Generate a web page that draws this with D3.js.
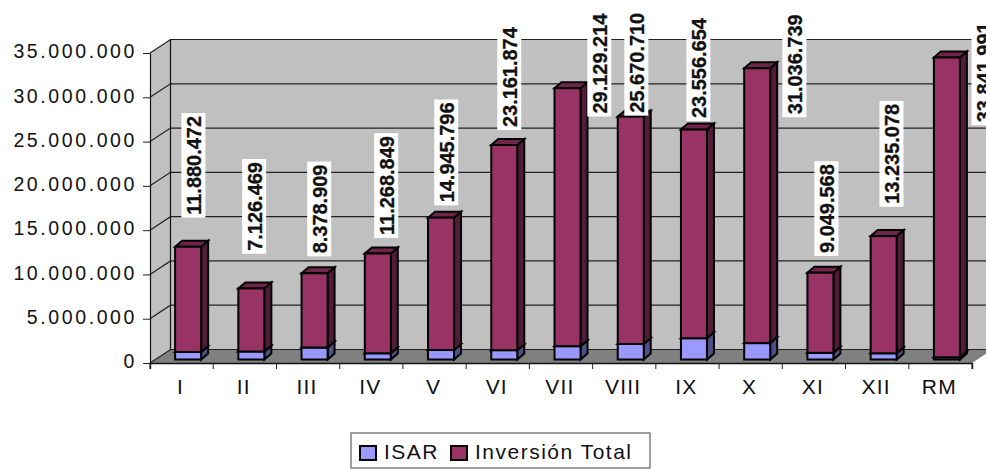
<!DOCTYPE html>
<html>
<head>
<meta charset="utf-8">
<script src="https://cdn.jsdelivr.net/npm/d3@7"></script>
<style>
  body { margin: 0; background: #fff; }
  svg { display: block; }
  text { font-family: "Liberation Sans", Arial, sans-serif; fill: #111; }
</style>
</head>
<body>
<svg id="chart" width="986" height="470"></svg>
<script>
const regions = ["I", "II", "III", "IV", "V", "VI", "VII", "VIII", "IX", "X", "XI", "XII", "RM"];
const isar = [850000, 900000, 1350000, 700000, 1070000, 1050000, 1500000, 1750000, 2400000, 1850000, 750000, 700000, 250000];
const inversion = [11880472, 7126469, 8378909, 11268849, 14945796, 23161874, 29129214, 25670710, 23556654, 31036739, 9049568, 13235078, 33841991];
const yTicks = [0, 5000000, 10000000, 15000000, 20000000, 25000000, 30000000, 35000000];
const seriesNames = ["ISAR", "Inversión Total"];

let margins = {top: 53, bottom: 107, left: 150, right: 14},
    width = 986,
    height = 470,
    depth = {x: 20.5, y: 13.5},
    barDepth = {x: 7, y: 6},
    barWidth = 26;

// labels were placed by hand in the original, [dx, dy] from the bar top
const labelShift = [[5.3, -29], [2.8, -34.6], [4.6, -17], [8.4, -15.6], [5.2, -12.3], [5, -15], [31.8, 28.3],
                    [5.6, -1], [4.4, -8.6], [37.2, 49], [6, -16.7], [7.8, -29.3], [36.6, 67.7]];

const colors = {
  ISAR: {front: "#9999ff", top: "#7373bf", side: "#4f4f85"},
  "Inversión Total": {front: "#993366", top: "#6e2549", side: "#501c38"}
};

const locale = d3.formatLocale({decimal: ",", thousands: ".", grouping: [3], currency: ["", ""]});
const fmt = locale.format(",d");

const svg = d3.select("#chart");

const x = d3.scaleBand()
  .domain(regions)
  .range([margins.left, width - margins.right]);

const y = d3.scaleLinear()
  .domain([0, 35000000])
  .range([height - margins.bottom, margins.top]);

const rows = regions.map((r, i) => ({region: r, ISAR: isar[i], "Inversión Total": inversion[i]}));
const stacked = d3.stack().keys(seriesNames)(rows);

const poly = pts => pts.map(p => p.join(",")).join(" ");

function draw_walls() {
  let x0 = x.range()[0], x1 = x.range()[1],
      y0 = y(0), y1 = y(35000000);

  svg.append("polygon")
    .attr("points", poly([[x0, y1], [x0 + depth.x, y1 - depth.y], [x0 + depth.x, y0 - depth.y], [x0, y0]]))
    .attr("fill", "#c0c0c0");
  svg.append("rect")
    .attr("x", x0 + depth.x).attr("y", y1 - depth.y)
    .attr("width", x1 - x0).attr("height", y0 - y1)
    .attr("fill", "#c0c0c0");
  svg.append("polygon")
    .attr("points", poly([[x0, y0], [x1, y0], [x1 + depth.x, y0 - depth.y], [x0 + depth.x, y0 - depth.y]]))
    .attr("fill", "#808080");

  // gridlines run round the side wall and along the back
  svg.append("g").selectAll("polyline")
    .data(yTicks).enter()
    .append("polyline")
    .attr("points", d => poly([[x0, y(d)], [x0 + depth.x, y(d) - depth.y], [x1 + depth.x, y(d) - depth.y]]))
    .attr("fill", "none")
    .attr("stroke", "#222")
    .attr("stroke-width", 1.2);

  svg.append("line")
    .attr("x1", x0 + depth.x).attr("x2", x0 + depth.x)
    .attr("y1", y1 - depth.y).attr("y2", y0 - depth.y)
    .attr("stroke", "#111").attr("stroke-width", 1.2);
}

function draw_bars() {
  let offX = (x.bandwidth() - barWidth) / 2 + 6.5,
      offY = 3.5;

  stacked.forEach(layer => {
    let c = colors[layer.key];
    let g = svg.append("g").attr("class", "series")
      .attr("stroke", "#000")
      .attr("stroke-width", 2)
      .attr("stroke-linejoin", "miter");

    layer.forEach(d => {
      let l = x(d.data.region) + offX,
          r = l + barWidth,
          t = y(d[1]) - offY,
          b = y(d[0]) - offY;

      g.append("polygon")
        .attr("points", poly([[r, t], [r + barDepth.x, t - barDepth.y], [r + barDepth.x, b - barDepth.y], [r, b]]))
        .attr("fill", c.side);
      g.append("polygon")
        .attr("points", poly([[l, t], [l + barDepth.x, t - barDepth.y], [r + barDepth.x, t - barDepth.y], [r, t]]))
        .attr("fill", c.top);
      g.append("rect")
        .attr("x", l).attr("y", t)
        .attr("width", barWidth).attr("height", b - t)
        .attr("fill", c.front);
    });
  });
}

function add_axes() {
  let x_axis = d3.axisBottom(x).tickSize(6).tickSizeOuter(6),
      y_axis = d3.axisLeft(y).tickValues(yTicks).tickFormat(fmt).tickSize(7).tickSizeOuter(0);

  let gx = svg.append("g")
    .attr("transform", `translate(0,${y(0)})`)
    .call(x_axis);
  gx.selectAll(".tick").remove();
  gx.selectAll(".cat")
    .data(regions.concat([""])).enter()
    .append("line")
    .attr("class", "cat")
    .attr("x1", (d, i) => margins.left + i * x.step())
    .attr("x2", (d, i) => margins.left + i * x.step())
    .attr("y2", 6)
    .attr("stroke", "#222");
  gx.selectAll(".lab")
    .data(regions).enter()
    .append("text")
    .attr("class", "lab")
    .attr("x", d => x(d) + x.bandwidth() / 2 - 1)
    .attr("y", 31)
    .attr("text-anchor", "middle")
    .attr("font-size", 21)
    .attr("letter-spacing", 1.2)
    .text(d => d);
  gx.select(".domain").attr("stroke", "#111").attr("stroke-width", 1.4);

  let gy = svg.append("g")
    .attr("transform", `translate(${margins.left},0)`)
    .call(y_axis);
  gy.select(".domain").attr("stroke", "#111").attr("stroke-width", 1.2);
  gy.selectAll(".tick line").attr("stroke", "#222");
  gy.selectAll(".tick text")
    .attr("font-size", 19.5)
    .attr("letter-spacing", 2.6)
    .attr("x", -13)
    .attr("y", -1.5)
    .attr("font-family", null);
}

function add_labels() {
  let g = svg.append("g").attr("class", "labels");
  let top = stacked[1];

  top.forEach((d, i) => {
    let cx = x(regions[i]) + x.bandwidth() / 2 + 6.5 + labelShift[i][0],
        bottom = y(d[1]) - 3.5 + labelShift[i][1];

    let lab = g.append("g").attr("transform", `translate(${cx},${bottom}) rotate(-90)`);
    let rect = lab.append("rect").attr("fill", "#fff");
    // the original glyphs are taller than they are long, so squeeze along the line
    let t = lab.append("text")
      .attr("x", 3)
      .attr("y", 7.5)
      .attr("font-size", 21)
      .attr("font-weight", "bold")
      .attr("stroke", "#111")
      .attr("stroke-width", 0.3)
      .text(fmt(inversion[i]));
    let len = t.node().getComputedTextLength() * 0.95;
    t.attr("textLength", len).attr("lengthAdjust", "spacingAndGlyphs");
    rect.attr("x", 0).attr("y", -12).attr("width", len + 6).attr("height", 24);
  });
}

function add_legend() {
  svg.append("rect")
    .attr("x", 351).attr("y", 433)
    .attr("width", 299).attr("height", 35)
    .attr("fill", "#fff")
    .attr("stroke", "#808080")
    .attr("stroke-width", 1.5);

  let items = svg.append("g").selectAll("g")
    .data(seriesNames).enter()
    .append("g")
    .attr("transform", (d, i) => `translate(${i == 0 ? 360 : 451},446)`);

  items.append("rect")
    .attr("width", 16).attr("height", 14)
    .attr("fill", d => colors[d].front)
    .attr("stroke", "#000")
    .attr("stroke-width", 2);

  items.append("text")
    .attr("x", 24)
    .attr("y", 13)
    .attr("font-size", 21)
    .attr("letter-spacing", 1.5)
    .text(d => d);
}

draw_walls();
draw_bars();
add_axes();
add_labels();
add_legend();
</script>
</body>
</html>
